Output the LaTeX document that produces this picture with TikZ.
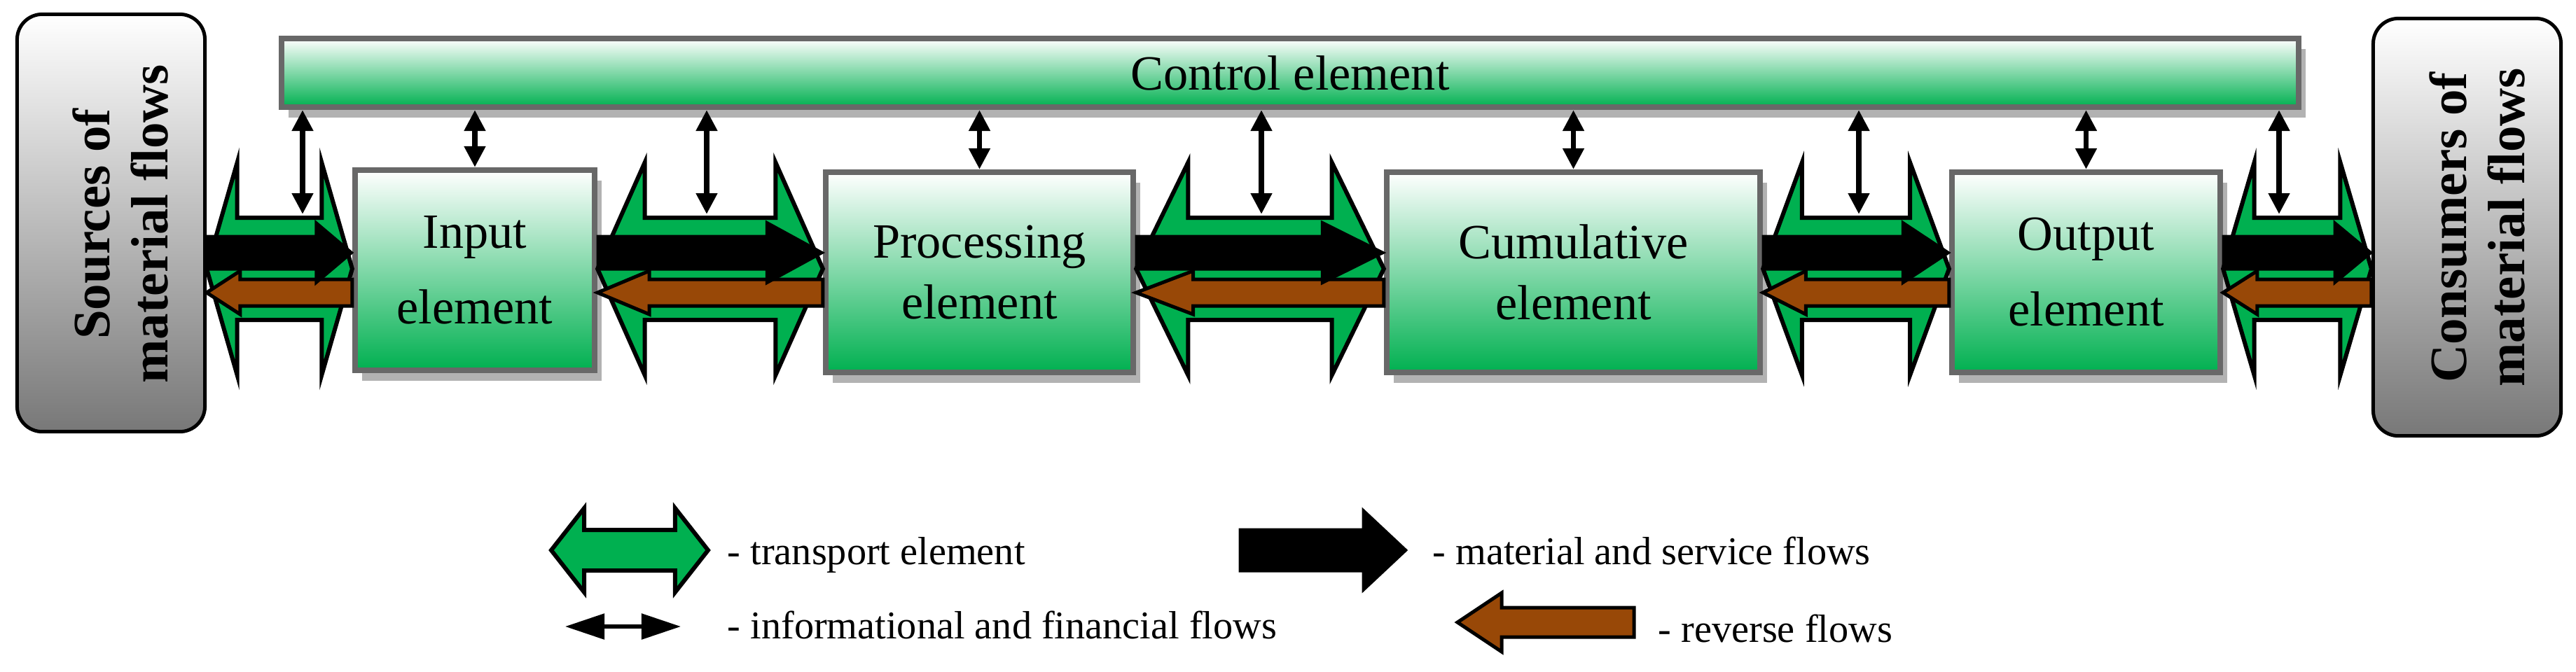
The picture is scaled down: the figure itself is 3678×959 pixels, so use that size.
\documentclass[tikz,border=0pt]{standalone}
\usepackage{fontspec}
\setmainfont{Liberation Serif}
\usetikzlibrary{arrows.meta,calc,shadows}

\definecolor{tgreen}{HTML}{00B050}
\definecolor{rbrown}{HTML}{984807}
\definecolor{bordergray}{HTML}{686868}

% double headed block arrow: style, left, right, head fraction, head half, body half
\newcommand{\dblshape}[6]{%
  \draw[#1] (#2) -- ($(#2)!#4!(#3)+(0,-#5)$) -- ($(#2)!#4!(#3)+(0,-#6)$)
    -- ($(#3)!#4!(#2)+(0,-#6)$) -- ($(#3)!#4!(#2)+(0,-#5)$) -- (#3)
    -- ($(#3)!#4!(#2)+(0,#5)$) -- ($(#3)!#4!(#2)+(0,#6)$)
    -- ($(#2)!#4!(#3)+(0,#6)$) -- ($(#2)!#4!(#3)+(0,#5)$) -- cycle;}
% single block arrow from #2 to #3
\newcommand{\oneshape}[6]{%
  \draw[#1] ($(#2)+(0,-#6)$) -- ($(#3)!#4!(#2)+(0,-#6)$) -- ($(#3)!#4!(#2)+(0,-#5)$)
    -- (#3) -- ($(#3)!#4!(#2)+(0,#5)$) -- ($(#3)!#4!(#2)+(0,#6)$)
    -- ($(#2)+(0,#6)$) -- cycle;}

\begin{document}
\begin{tikzpicture}[x=0.01cm,y=-0.01cm,
  box/.style={draw=bordergray, line width=0.08cm, top color=white, bottom color=tgreen,
    minimum height=2.86cm, align=center, font=\fontsize{20}{24.8}\selectfont,
    drop shadow={shadow xshift=0.1cm, shadow yshift=-0.15cm, fill=black!30, opacity=1}},
  srcbox/.style={draw=black, line width=0.05cm, rounded corners=0.36cm, top color=white,
    bottom color=black!53, minimum width=2.68cm, minimum height=5.96cm},
  sidetext/.style={rotate=90, align=center, inner sep=0pt,
    font=\bfseries\fontsize{21.3}{23.6}\selectfont},
  tpfill/.style={fill=tgreen, draw=black, line width=0.06cm},
  matflow/.style={fill=black, draw=black, line width=0.03cm},
  revflow/.style={fill=rbrown, draw=black, line width=0.05cm},
  infoarrow/.style={line width=0.075cm,
    {Triangle[length=0.3cm,width=0.29cm]}-{Triangle[length=0.3cm,width=0.29cm]}},
  infolegend/.style={line width=0.055cm,
    {Triangle[length=0.56cm,width=0.36cm]}-{Triangle[length=0.56cm,width=0.36cm]}},
  legtext/.style={anchor=base west, inner sep=0pt, font=\fontsize{16}{19}\selectfont}]
\useasboundingbox (0,0) rectangle (3678,959);

% sources and consumers
\node[srcbox] (src) at (158.5,318.5) {};
\node[sidetext] (srclbl) at (172,320) {Sources of\\material flows};
\node[srcbox] (cons) at (3522.5,324.5) {};
\node[sidetext] (conslbl) at (3537,325) {Consumers of\\material flows};

% control element and the four elements
\node[box, minimum width=28.78cm, minimum height=0.98cm] (ctrl) at (1842,104) {Control element};
\node[box, minimum width=3.42cm, font=\fontsize{20}{30.7}\selectfont] (inp) at (678,386) {Input\\element};
\node[box, minimum width=4.39cm] (proc) at (1398.5,389) {Processing\\element};
\node[box, minimum width=5.33cm] (cum) at (2246.5,389) {Cumulative\\element};
\node[box, minimum width=3.83cm, font=\fontsize{20}{30.7}\selectfont] (outp) at (2978.5,389) {Output\\element};

% transport elements with material and reverse flows
\foreach \a/\b in {src/inp,inp/proc,proc/cum,cum/outp,outp/cons} {
  \coordinate (gl) at (\a.east |- 0,384);
  \coordinate (gr) at (\b.west |- 0,384);
  \coordinate (ml) at (\a.east |- 0,361);
  \coordinate (mr) at (\b.west |- 0,361);
  \coordinate (rl) at (\a.east |- 0,418);
  \coordinate (rr) at (\b.west |- 0,418);
  \dblshape{tpfill}{gl}{gr}{0.21}{152}{73}
  \oneshape{revflow}{rr}{rl}{0.23}{31}{19}
  \oneshape{matflow}{ml}{mr}{0.25}{44}{24}
}

% informational and financial flows
\coordinate (c1) at (432,306);
\coordinate (c2) at (1009,306);
\coordinate (c3) at (1801,306);
\coordinate (c4) at (2654,306);
\coordinate (c5) at (3254,306);
\foreach \i in {1,...,5}
  \draw[infoarrow] (c\i |- ctrl.south) -- (c\i);
\foreach \b in {inp,proc,cum,outp}
  \draw[infoarrow] (\b.north |- ctrl.south) -- (\b.north);

% legend
\coordinate (tl) at (787,786);
\coordinate (tr) at (1011,786);
\dblshape{tpfill}{tl}{tr}{0.21}{60}{29}
\node[legtext] (lt1) at (1038,806) {- transport element};
\coordinate (il) at (807,895);
\coordinate (ir) at (972,895);
\draw[infolegend] (il) -- (ir);
\node[legtext] (lt2) at (1038,912) {- informational and financial flows};
\coordinate (ml) at (1770,786);
\coordinate (mr) at (2008,786);
\oneshape{matflow}{ml}{mr}{0.26}{58}{30}
\node[legtext] (lt3) at (2045,806) {- material and service flows};
\coordinate (rl) at (2081,889);
\coordinate (rr) at (2333,889);
\oneshape{revflow}{rr}{rl}{0.25}{42}{21}
\node[legtext] (lt4) at (2367,917) {- reverse flows};
\end{tikzpicture}
\end{document}
